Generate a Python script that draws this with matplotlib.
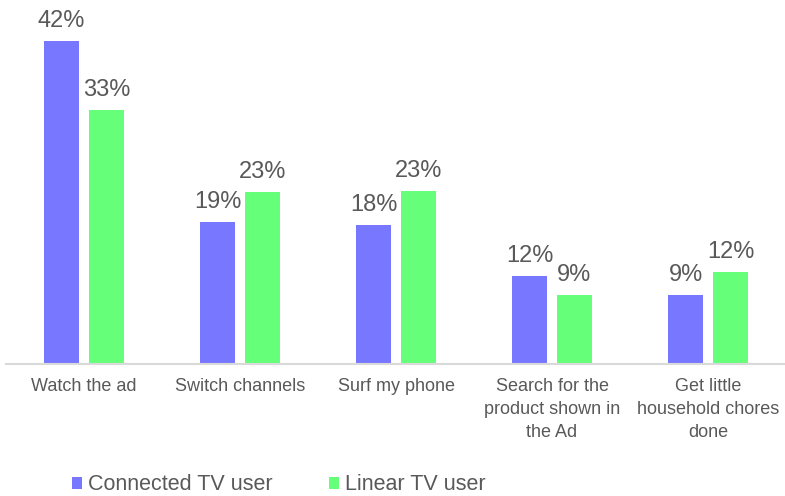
import matplotlib
matplotlib.use("Agg")
import matplotlib.pyplot as plt
import numpy as np

categories = ["Watch the ad", "Switch channels", "Surf my phone",
              "Search for the\nproduct shown in\nthe Ad", "Get little\nhousehold chores\ndone"]
connected = [42.0, 18.5, 18.0, 11.4, 9.0]
linear = [33.0, 22.3, 22.5, 9.0, 11.9]
connected_labels = ["42%", "19%", "18%", "12%", "9%"]
linear_labels = ["33%", "23%", "23%", "9%", "12%"]
series_names = ["Connected TV user", "Linear TV user"]
colors = ["#7777FF", "#66FF7A"]

plt.rcParams['font.family'] = ['Liberation Sans', 'DejaVu Sans']
txt_color = "#595959"

fig = plt.figure(figsize=(7.85, 4.96), dpi=100)
ax = fig.add_axes([6/785, (496-364)/496, 780/785, 364/496])

x = np.arange(len(categories))
w = 0.224
off = 0.144
b1 = ax.bar(x - off, connected, w, color=colors[0], label=series_names[0])
b2 = ax.bar(x + off, linear, w, color=colors[1], label=series_names[1])
for bars, vals, labs in ((b1, connected, connected_labels), (b2, linear, linear_labels)):
    for r, v, lab in zip(bars, vals, labs):
        ax.annotate(lab, (r.get_x() + r.get_width()/2, v), xytext=(0, 6.5),
                    textcoords="offset points", ha="center", va="bottom",
                    fontsize=17, color=txt_color)

ax.set_xlim(-0.5, len(categories) - 0.5)
ax.set_ylim(0, 47.3)
ax.set_yticks([])
for s in ["top", "right", "left"]:
    ax.spines[s].set_visible(False)
ax.spines["bottom"].set_color("#D9D9D9")
ax.spines["bottom"].set_linewidth(1.5)
ax.set_xticks(x)
ax.set_xticklabels(categories, fontsize=13, color=txt_color, linespacing=1.45)
ax.tick_params(axis="x", length=0, pad=10)

leg = fig.legend(handles=[b1, b2], labels=series_names, loc="center left",
                 bbox_to_anchor=(72/785, 1 - 485/496), ncol=2, frameon=False,
                 fontsize=15.5, handlelength=0.46, handleheight=0.46,
                 handletextpad=0.3, columnspacing=2.6, borderpad=0,
                 borderaxespad=0, labelcolor=txt_color)

fig.savefig("out.png", dpi=100)
